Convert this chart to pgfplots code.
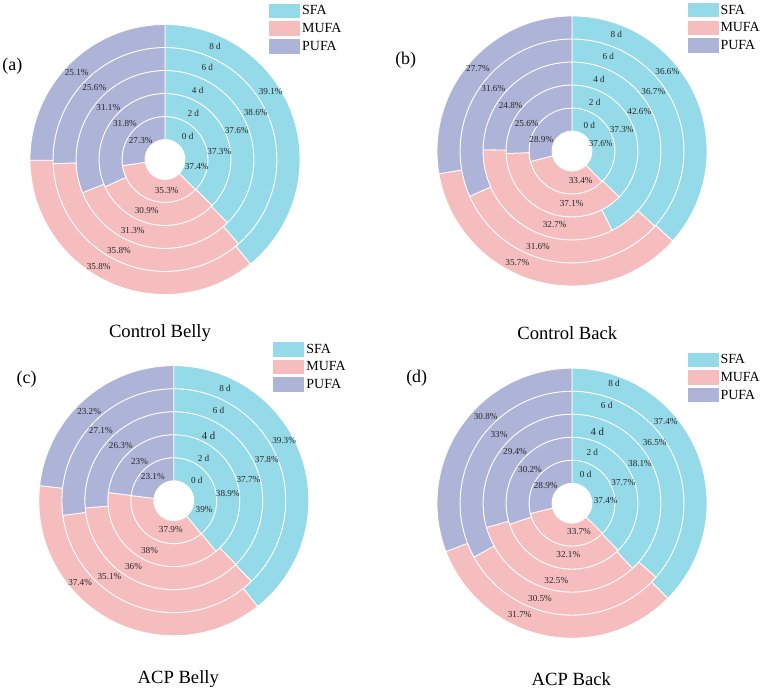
\documentclass[border=0pt]{standalone}
\usepackage{pgfplots}
\usepackage{pgfplotstable}
\pgfplotsset{compat=1.18}
\usepackage{fontspec}
\setmainfont{Liberation Serif}

\definecolor{sfacol}{RGB}{149,218,232}
\definecolor{mufacol}{RGB}{246,189,190}
\definecolor{pufacol}{RGB}{174,179,216}

% Fatty acid composition (%) by storage day
\pgfplotstableread{
day sfa  mufa pufa
0   37.4 35.3 27.3
2   37.3 30.9 31.8
4   37.6 31.3 31.1
6   38.6 35.8 25.6
8   39.1 35.8 25.1
}\ctrlbelly
\pgfplotstableread{
day sfa  mufa pufa
0   37.6 33.4 28.9
2   37.3 37.1 25.6
4   42.6 32.7 24.8
6   36.7 31.6 31.6
8   36.6 35.7 27.7
}\ctrlback
\pgfplotstableread{
day sfa  mufa pufa
0   39   37.9 23.1
2   38.9 38   23
4   37.7 36   26.3
6   37.8 35.1 27.1
8   39.3 37.4 23.2
}\acpbelly
\pgfplotstableread{
day sfa  mufa pufa
0   37.4 33.7 28.9
2   37.7 32.1 30.2
4   38.1 32.5 29.4
6   36.5 30.5 33
8   37.4 31.7 30.8
}\acpback

% Label offsets from the chart centre: SFA, MUFA, PUFA value and day tag
\pgfplotstableread{
sx    sy    mx    my     px    py   dx   dy
31.7  -7.3  1.7   -31.3  -24.3 18.7 22.7 23.3
54.3  7.7   -18.3 -51.3  -40   36   28.3 46
71.7  29.3  -32.3 -71.3  -56.7 52   32.7 68.7
90.7  46.7  -46   -91.3  -70.7 71.7 42.3 91.7
105.7 67.7  -66.3 -107.3 -88.3 86.7 50   113.3
}\ctrlbellylab
\pgfplotstableread{
sx    sy    mx    my     px    py   dx   dy
28.7  7     8.7   -30    -30.7 11.7 17.3 26
49.7  21    -0.3  -53    -45.3 27.7 22.7 48.7
67.3  39.7  -17.3 -74    -61.3 45   27   71.3
81.3  59    -34   -95.7  -78.7 62.7 36.3 95
95.3  79.3  -54.7 -111.3 -94   82   44.3 116.7
}\ctrlbacklab
\pgfplotstableread{
sx    sy    mx    my     px    py   dx   dy
30.3  -8.7  -3    -29.3  -21   23.7 23   20.7
54    7     -24.3 -49.7  -34.3 39.3 29.7 42.3
74.7  21.3  -40.3 -66    -53   55.3 34.7 64.7
93    40.7  -64.3 -76    -73   69.7 44.7 90.7
110.3 60    -93.7 -82    -84.7 89   51.3 112
}\acpbellylab
\pgfplotstableread{
sx    sy    mx    my     px    py   dx   dy
33.7  2.8   7     -28.8  -26.3 17.2 13.7 28.5
51.3  20.5  -3.7  -51.8  -42   33.8 20.3 50.5
68    39.8  -15.7 -77.2  -57   51.2 25.3 71.8
82.7  60.5  -32   -95.5  -73   68.2 34.7 98.2
93.7  81.5  -52.3 -111.2 -86.3 86.5 42   119.5
}\acpbacklab

\tikzset{
  vlab/.style={font=\fontsize{9.2}{10}\selectfont, inner sep=0pt, text=black!85},
  dlab/.style={font=\fontsize{9.2}{10}\selectfont, inner sep=0pt, text=black!85},
  dlabbig/.style={font=\fontsize{10.8}{12}\selectfont, inner sep=0pt, text=black!85},
  ttl/.style={font=\fontsize{18.7}{20}\selectfont, inner sep=0pt},
  tag/.style={font=\fontsize{18}{20}\selectfont, inner sep=0pt},
}

% one ring segment between angles #2 and #3 (clockwise)
\newcommand{\sector}[3]{%
  \edef\tmp{\noexpand\filldraw[fill=#1, draw=white, line width=0.8bp]
    ([shift={(#2:\ro bp)}]ctr) arc[start angle=#2, end angle=#3, radius=\ro bp]
    -- ([shift={(#3:\ri bp)}]ctr) arc[start angle=#3, end angle=#2, radius=\ri bp]
    -- cycle;}\tmp}

% #1 values, #2 label offsets, #3 #4 centre, #5 style of the 4 d tag
\newcommand{\ringchart}[5]{%
  \coordinate (ctr) at (#3,#4);
  \foreach \k in {0,...,4} {
    \pgfplotstablegetelem{\k}{sfa}\of{#1}\let\vs\pgfplotsretval
    \pgfplotstablegetelem{\k}{mufa}\of{#1}\let\vm\pgfplotsretval
    \pgfplotstablegetelem{\k}{pufa}\of{#1}\let\vp\pgfplotsretval
    \pgfmathsetmacro\tot{\vs+\vm+\vp}
    \pgfmathsetmacro\ri{20+23*\k}
    \pgfmathsetmacro\ro{\ri+23}
    \pgfmathsetmacro\ab{90-360*\vs/\tot}
    \pgfmathsetmacro\ac{\ab-360*\vm/\tot}
    \sector{sfacol}{90}{\ab}
    \sector{mufacol}{\ab}{\ac}
    \sector{pufacol}{\ac}{-270}
  }
  \foreach \k in {0,...,4} {
    \pgfplotstablegetelem{\k}{day}\of{#1}\let\dd\pgfplotsretval
    \pgfplotstablegetelem{\k}{sfa}\of{#1}\let\vs\pgfplotsretval
    \pgfplotstablegetelem{\k}{mufa}\of{#1}\let\vm\pgfplotsretval
    \pgfplotstablegetelem{\k}{pufa}\of{#1}\let\vp\pgfplotsretval
    \pgfplotstablegetelem{\k}{sx}\of{#2}\pgfmathsetmacro\xs{#3+\pgfplotsretval}
    \pgfplotstablegetelem{\k}{sy}\of{#2}\pgfmathsetmacro\ys{#4+\pgfplotsretval}
    \pgfplotstablegetelem{\k}{mx}\of{#2}\pgfmathsetmacro\xm{#3+\pgfplotsretval}
    \pgfplotstablegetelem{\k}{my}\of{#2}\pgfmathsetmacro\ym{#4+\pgfplotsretval}
    \pgfplotstablegetelem{\k}{px}\of{#2}\pgfmathsetmacro\xp{#3+\pgfplotsretval}
    \pgfplotstablegetelem{\k}{py}\of{#2}\pgfmathsetmacro\yp{#4+\pgfplotsretval}
    \pgfplotstablegetelem{\k}{dx}\of{#2}\pgfmathsetmacro\xd{#3+\pgfplotsretval}
    \pgfplotstablegetelem{\k}{dy}\of{#2}\pgfmathsetmacro\yd{#4+\pgfplotsretval}
    \ifnum\k=2 \def\dsty{#5}\else\def\dsty{dlab}\fi
    \edef\tmp{%
      \noexpand\node[vlab] at (\xs,\ys) {\vs\noexpand\%};
      \noexpand\node[vlab] at (\xm,\ym) {\vm\noexpand\%};
      \noexpand\node[vlab] at (\xp,\yp) {\vp\noexpand\%};
      \noexpand\node[\dsty] at (\xd,\yd) {\dd\noexpand\ d};}\tmp
  }
}

\pgfplotsset{
  donut/.style={
    hide axis, scale only axis, width=767bp, height=692bp,
    xmin=0, xmax=767, ymin=0, ymax=692, clip=false,
    at={(0,0)}, anchor=south west,
    legend cell align=left,
    legend image code/.code={\fill[##1, draw=none] (0bp,-7.25bp) rectangle (31bp,7.25bp);},
    legend style={anchor=north west, draw=none, fill=none, inner sep=0pt,
      row sep=3bp, font=\fontsize{14}{15}\selectfont},
  },
}
\newcommand{\falegend}{%
  \addlegendimage{fill=sfacol, draw=none}\addlegendentry{SFA}
  \addlegendimage{fill=mufacol, draw=none}\addlegendentry{MUFA}
  \addlegendimage{fill=pufacol, draw=none}\addlegendentry{PUFA}}

\begin{document}
\begin{tikzpicture}
\useasboundingbox (0,0) rectangle (767bp,692bp);

\begin{axis}[donut, legend style={at={(axis description cs:0.3507,0.9952)}}]
  \falegend
  \ringchart{\ctrlbelly}{\ctrlbellylab}{165}{532.5}{dlab}
  \node[ttl] at (160,359.3) {Control Belly};
  \node[tag] at (12.3,625.3) {(a)};
\end{axis}

\begin{axis}[donut, legend style={at={(axis description cs:0.8961,0.9961)}}]
  \falegend
  \ringchart{\ctrlback}{\ctrlbacklab}{572}{541}{dlab}
  \node[ttl] at (567.3,359.3) {Control Back};
  \node[tag] at (405.7,632) {(b)};
\end{axis}

\begin{axis}[donut, legend style={at={(axis description cs:0.3563,0.5062)}}]
  \falegend
  \ringchart{\acpbelly}{\acpbellylab}{173.8}{191.3}{dlabbig}
  \node[ttl] at (178.3,12.7) {ACP Belly};
  \node[tag] at (26.7,312.7) {(c)};
\end{axis}

\begin{axis}[donut, legend style={at={(axis description cs:0.8961,0.4909)}}]
  \falegend
  \ringchart{\acpback}{\acpbacklab}{572}{188.8}{dlabbig}
  \node[ttl] at (571.3,12.7) {ACP Back};
  \node[tag] at (416.7,314.3) {(d)};
\end{axis}
\end{tikzpicture}
\end{document}
